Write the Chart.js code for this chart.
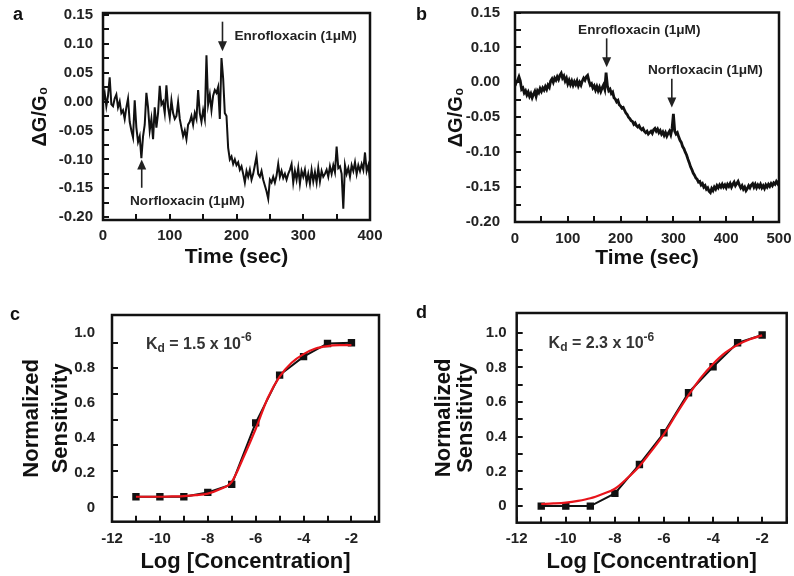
<!DOCTYPE html>
<html>
<head>
<meta charset="utf-8">
<script src="https://cdn.jsdelivr.net/npm/chart.js@4.4.1/dist/chart.umd.min.js"></script>
<style>
    html, body { margin: 0; padding: 0; background: #fff; }
    #wrap { position: relative; width: 794px; height: 576px; overflow: hidden; font-family: "Liberation Sans", Arial, sans-serif; }
    .panel { position: absolute; }
    .tag { position: absolute; font-weight: bold; font-size: 18px; line-height: 18px; color: #111; }
</style>
</head>
<body>
<div id="wrap">
    <canvas class="panel" id="chart-a" width="397" height="280" style="left:0;top:0"></canvas>
    <canvas class="panel" id="chart-b" width="397" height="280" style="left:397px;top:0"></canvas>
    <canvas class="panel" id="chart-c" width="397" height="296" style="left:0;top:280px"></canvas>
    <canvas class="panel" id="chart-d" width="397" height="296" style="left:397px;top:280px"></canvas>
    <div class="tag" style="left:13px;top:5px">a</div>
    <div class="tag" style="left:416px;top:5px">b</div>
    <div class="tag" style="left:10px;top:305px">c</div>
    <div class="tag" style="left:416px;top:303px">d</div>
</div>
<script>
// ---- panel a: conductance trace, one sample every 2.5 s ----
const DT_A = 2.5;
const valuesA = [
    0.000, 0.015, -0.008, 0.010, 0.042, -0.005, -0.008, 0.005, 0.012, -0.010,
    0.000, -0.020, -0.015, -0.030, -0.010, 0.005, -0.035, -0.050, -0.062, 0.002,
    -0.045, -0.070, -0.060, -0.098, -0.060, -0.040, 0.015, -0.010, -0.050, -0.030,
    -0.065, -0.010, -0.045, -0.020, 0.027, -0.005, 0.000, -0.020, 0.028, -0.010,
    -0.028, 0.002, -0.020, -0.030, -0.025, -0.001, -0.030, -0.045, -0.060, -0.050,
    -0.065, -0.040, -0.035, -0.025, -0.040, -0.020, -0.030, 0.020, -0.020, -0.035,
    -0.015, -0.030, 0.080, -0.005, 0.012, -0.015, 0.010, 0.020, 0.015, 0.025,
    -0.030, 0.075, 0.040, -0.020, -0.025, -0.080, -0.100, -0.095, -0.108, -0.100,
    -0.110, -0.105, -0.118, -0.112, -0.125, -0.140, -0.120, -0.130, -0.118, -0.135,
    -0.125, -0.110, -0.095, -0.125, -0.130, -0.120, -0.135, -0.145, -0.155, -0.168,
    -0.135, -0.140, -0.130, -0.140, -0.128, -0.108, -0.130, -0.120, -0.132, -0.125,
    -0.135, -0.125, -0.118, -0.108, -0.140, -0.120, -0.135, -0.115, -0.142, -0.120,
    -0.130, -0.118, -0.140, -0.125, -0.142, -0.118, -0.138, -0.122, -0.140, -0.115,
    -0.138, -0.120, -0.130, -0.125, -0.118, -0.130, -0.112, -0.125, -0.110, -0.122,
    -0.078, -0.115, -0.112, -0.125, -0.185, -0.110, -0.125, -0.115, -0.130, -0.110,
    -0.120, -0.105, -0.125, -0.110, -0.120, -0.108, -0.118, -0.088, -0.120, -0.110,
    -0.135
];
const aXTickVals = [0, 100, 200, 300, 400];
const aXTickLabels = ['0', '100', '200', '300', '400'];
const aYTickVals = [-0.20, -0.15, -0.10, -0.05, 0.00, 0.05, 0.10, 0.15];
const aYTickLabels = ['-0.20', '-0.15', '-0.10', '-0.05', '0.00', '0.05', '0.10', '0.15'];

// ---- panel b: conductance trace, one sample every 2.5 s ----
const DT_B = 2.5;
const valuesB = [
    -0.005, 0.000, 0.003, 0.008, 0.002, -0.010, -0.008, -0.015, -0.012, -0.018,
    -0.014, -0.020, -0.016, -0.022, -0.017, -0.013, -0.020, -0.012, -0.015, -0.009,
    -0.013, -0.008, -0.011, -0.006, -0.010, -0.004, -0.007, 0.002, 0.005, 0.000,
    0.006, 0.003, 0.008, 0.004, 0.010, 0.013, 0.006, 0.009, 0.002, 0.006,
    -0.002, 0.003, -0.003, 0.002, -0.004, 0.001, -0.003, 0.002, -0.005, 0.000,
    -0.004, 0.002, 0.006, 0.003, 0.008, 0.010, 0.002, -0.004, -0.002, -0.008,
    -0.005, -0.011, -0.006, -0.012, -0.007, -0.013, -0.008, -0.004, -0.010, 0.014,
    -0.005, -0.012, -0.010, -0.016, -0.014, -0.022, -0.024, -0.028, -0.026, -0.032,
    -0.034, -0.037, -0.036, -0.040, -0.044, -0.046, -0.050, -0.052, -0.055, -0.056,
    -0.060, -0.058, -0.062, -0.064, -0.062, -0.066, -0.068, -0.066, -0.070, -0.072,
    -0.070, -0.074, -0.072, -0.070, -0.073, -0.068, -0.066, -0.070, -0.067, -0.072,
    -0.069, -0.074, -0.071, -0.076, -0.072, -0.077, -0.073, -0.070, -0.075, -0.066,
    -0.045, -0.070, -0.074, -0.072, -0.078, -0.083, -0.086, -0.092, -0.095, -0.100,
    -0.104, -0.110, -0.115, -0.121, -0.125, -0.130, -0.133, -0.137, -0.139, -0.143,
    -0.142, -0.147, -0.145, -0.150, -0.148, -0.153, -0.151, -0.156, -0.158, -0.152,
    -0.155, -0.150, -0.153, -0.148, -0.151, -0.147, -0.150, -0.146, -0.150, -0.147,
    -0.151, -0.146, -0.149, -0.145, -0.150, -0.146, -0.143, -0.148, -0.145, -0.142,
    -0.147, -0.151, -0.148, -0.153, -0.150, -0.155, -0.152, -0.148, -0.151, -0.147,
    -0.145, -0.150, -0.146, -0.151, -0.147, -0.150, -0.146, -0.151, -0.148, -0.152,
    -0.147, -0.150, -0.146, -0.149, -0.145, -0.148, -0.144, -0.146, -0.142, -0.145,
    -0.141
];
const bXTickVals = [0, 100, 200, 300, 400, 500];
const bXTickLabels = ['0', '100', '200', '300', '400', '500'];
// the printed axis skips 0.05, so the two upper labels sit one step low
const bYTickVals = [-0.20, -0.15, -0.10, -0.05, 0.00, 0.05, 0.10];
const bYTickLabels = ['-0.20', '-0.15', '-0.10', '-0.05', '0.00', '0.10', '0.15'];

// ---- panels c and d: binding curves ----
const logConc = [-11, -10, -9, -8, -7, -6, -5, -4, -3, -2];
const sensC = [0, 0, 0, 0.028, 0.08, 0.48, 0.79, 0.91, 0.995, 1.0];
const sensD = [0, 0, 0, 0.073, 0.24, 0.423, 0.654, 0.804, 0.942, 0.987];
const fitLogConc = [-11, -10.5, -10, -9.5, -9, -8.5, -8, -7.5, -7, -6.5, -6, -5.5, -5, -4.5, -4, -3.5, -3, -2.5, -2];
const fitC = [0.000, 0.000, 0.000, 0.002, 0.004, 0.010, 0.020, 0.048, 0.097, 0.26, 0.44, 0.64, 0.78, 0.87, 0.926, 0.962, 0.978, 0.984, 0.985];
const fitD = [0.012, 0.015, 0.020, 0.030, 0.045, 0.070, 0.100, 0.160, 0.230, 0.320, 0.415, 0.530, 0.640, 0.740, 0.820, 0.885, 0.930, 0.962, 0.985];
const cdXTickVals = [-12, -10, -8, -6, -4, -2];
const cdXTickLabels = ['-12', '-10', '-8', '-6', '-4', '-2'];
// panel c prints its labels on a different spacing than its tick marks
const cYTickMarks = [0, 0.1667, 0.3333, 0.5, 0.6667, 0.8333, 1.0];
const cYTickVals = [0, 0.2, 0.4, 0.6, 0.8, 1.0];
const cYTickLabels = ['0', '0.2', '0.4', '0.6', '0.8', '1.0'];
const dYTickVals = [0, 0.2, 0.4, 0.6, 0.8, 1.0];
const dYTickLabels = ['0', '0.2', '0.4', '0.6', '0.8', '1.0'];

const SANS = '"Liberation Sans", Arial, sans-serif';
const tickFont = { family: SANS, size: 15, weight: 'bold' };
const titleFont = { family: SANS, size: 21, weight: 'bold' };

function stepTicks(lo, hi, step) {
    const out = [];
    for (let v = lo; v <= hi + 1e-9; v += step) out.push({ value: Math.round(v * 1e6) / 1e6 });
    return out;
}

function labelFor(values, labels) {
    return v => {
        const i = values.findIndex(t => Math.abs(t - v) < 1e-6);
        return i < 0 ? '' : labels[i];
    };
}

function tickMarks() {
    return { drawOnChartArea: false, drawTicks: true, tickLength: -6, color: '#111', lineWidth: 2 };
}

// fixed box size, no extra room for overhanging labels
function fixSize(w, h) {
    return s => {
        if (w !== null) s.width = w;
        if (h !== null) s.height = h;
        s.paddingTop = 0;
        s.paddingBottom = 0;
        s.paddingLeft = 0;
        s.paddingRight = 0;
    };
}

const framePlugin = {
    id: 'frame',
    afterDatasetsDraw(chart) {
        const { ctx, chartArea: a } = chart;
        ctx.save();
        ctx.strokeStyle = '#111';
        ctx.lineWidth = 2.5;
        ctx.strokeRect(a.left, a.top, a.right - a.left, a.bottom - a.top);
        ctx.restore();
    }
};

// arrows and free text, placed in data units
const notesPlugin = {
    id: 'notes',
    afterDraw(chart, args, opts) {
        const { ctx, scales } = chart;
        const xs = scales.x, ys = scales.y;
        ctx.save();
        ctx.strokeStyle = '#222';
        ctx.fillStyle = '#222';
        (opts.arrows || []).forEach(a => {
            const x = xs.getPixelForValue(a.x);
            const y0 = ys.getPixelForValue(a.from);
            const y1 = ys.getPixelForValue(a.to);
            const dir = Math.sign(y1 - y0);
            ctx.lineWidth = 1.6;
            ctx.beginPath();
            ctx.moveTo(x, y0);
            ctx.lineTo(x, y1 - dir * 8);
            ctx.stroke();
            ctx.beginPath();
            ctx.moveTo(x, y1);
            ctx.lineTo(x - 4.5, y1 - dir * 10);
            ctx.lineTo(x + 4.5, y1 - dir * 10);
            ctx.closePath();
            ctx.fill();
        });
        (opts.texts || []).forEach(t => {
            let x = xs.getPixelForValue(t.x);
            const y = ys.getPixelForValue(t.y);
            ctx.textBaseline = 'middle';
            ctx.textAlign = 'left';
            ctx.fillStyle = t.color || '#222';
            t.parts.forEach(p => {
                const size = p.sub || p.sup ? Math.round(t.size * 0.72) : t.size;
                ctx.font = 'bold ' + size + 'px ' + SANS;
                const dy = p.sub ? t.size * 0.3 : p.sup ? -t.size * 0.38 : 0;
                ctx.fillText(p.s, x, y + dy);
                x += ctx.measureText(p.s).width;
            });
        });
        ctx.restore();
    }
};

const baseOptions = {
    responsive: false,
    animation: false,
    events: []
};

// ---- chart a ----
new Chart(document.getElementById('chart-a'), {
    type: 'line',
    data: {
        datasets: [{
            data: valuesA.map((v, i) => ({ x: i * DT_A, y: v })),
            borderColor: '#111', borderWidth: 2, pointRadius: 0, tension: 0
        }]
    },
    options: {
        ...baseOptions,
        layout: { padding: { top: 13, right: 27, left: 0, bottom: 0 } },
        plugins: {
            legend: { display: false }, tooltip: { enabled: false },
            notes: {
                arrows: [{ x: 179, from: 0.138, to: 0.087 }, { x: 58, from: -0.149, to: -0.100 }],
                texts: [
                    { x: 197, y: 0.1125, size: 13.6, parts: [{ s: 'Enrofloxacin (1μM)' }] },
                    { x: 40.5, y: -0.173, size: 13.6, parts: [{ s: 'Norfloxacin (1μM)' }] }
                ]
            }
        },
        scales: {
            x: {
                type: 'linear', min: 0, max: 400,
                border: { display: false }, grid: tickMarks(),
                afterBuildTicks: s => { s.ticks = stepTicks(0, 400, 50); },
                ticks: { autoSkip: false, maxRotation: 0, padding: 13, color: '#222', font: tickFont, callback: labelFor(aXTickVals, aXTickLabels) },
                title: { display: true, text: 'Time (sec)', color: '#111', font: titleFont, padding: { top: 0, bottom: 10 } },
                afterFit: fixSize(null, 60)
            },
            y: {
                type: 'linear', min: -0.2047, max: 0.153,
                border: { display: false }, grid: tickMarks(),
                afterBuildTicks: s => { s.ticks = stepTicks(-0.2, 0.15, 0.025); },
                ticks: { autoSkip: false, padding: 16, color: '#222', font: tickFont, callback: labelFor(aYTickVals, aYTickLabels) },
                title: { display: true, text: 'ΔG/G₀', color: '#111', font: { family: SANS, size: 20, weight: 'bold' }, padding: { top: 28, bottom: 0 } },
                afterFit: fixSize(103, null)
            }
        }
    },
    plugins: [framePlugin, notesPlugin]
});

// ---- chart b ----
new Chart(document.getElementById('chart-b'), {
    type: 'line',
    data: {
        datasets: [{
            data: valuesB.map((v, i) => ({ x: i * DT_B, y: v })),
            borderColor: '#111', borderWidth: 2.8, pointRadius: 0, tension: 0
        }]
    },
    options: {
        ...baseOptions,
        layout: { padding: { top: 12.5, right: 15, left: 0, bottom: 0 } },
        plugins: {
            legend: { display: false }, tooltip: { enabled: false },
            notes: {
                arrows: [{ x: 173.6, from: 0.063, to: 0.0215 }, { x: 297, from: 0.005, to: -0.036 }],
                texts: [
                    { x: 119.5, y: 0.075, size: 13.6, parts: [{ s: 'Enrofloxacin (1μM)' }] },
                    { x: 252, y: 0.0167, size: 13.6, parts: [{ s: 'Norfloxacin (1μM)' }] }
                ]
            }
        },
        scales: {
            x: {
                type: 'linear', min: 0, max: 500,
                border: { display: false }, grid: tickMarks(),
                afterBuildTicks: s => { s.ticks = stepTicks(0, 500, 50); },
                ticks: { autoSkip: false, maxRotation: 0, padding: 14, color: '#222', font: tickFont, callback: labelFor(bXTickVals, bXTickLabels) },
                title: { display: true, text: 'Time (sec)', color: '#111', font: titleFont, padding: { top: 0, bottom: 9 } },
                afterFit: fixSize(null, 58)
            },
            y: {
                type: 'linear', min: -0.2, max: 0.1,
                border: { display: false }, grid: tickMarks(),
                afterBuildTicks: s => { s.ticks = stepTicks(-0.2, 0.1, 0.025); },
                ticks: { autoSkip: false, padding: 21, color: '#222', font: tickFont, callback: labelFor(bYTickVals, bYTickLabels) },
                title: { display: true, text: 'ΔG/G₀', color: '#111', font: { family: SANS, size: 20, weight: 'bold' }, padding: { top: 47, bottom: 0 } },
                afterFit: fixSize(118, null)
            }
        }
    },
    plugins: [framePlugin, notesPlugin]
});

// ---- chart c ----
new Chart(document.getElementById('chart-c'), {
    type: 'line',
    data: {
        datasets: [
            {
                data: fitLogConc.map((x, i) => ({ x, y: fitC[i] })),
                borderColor: '#e8141b', borderWidth: 2.2, pointRadius: 0, cubicInterpolationMode: 'monotone'
            },
            {
                data: logConc.map((x, i) => ({ x, y: sensC[i] })),
                borderColor: '#111', backgroundColor: '#111', borderWidth: 2,
                pointStyle: 'rect', pointRadius: 3.8, tension: 0
            }
        ]
    },
    options: {
        ...baseOptions,
        layout: { padding: { top: 35, right: 18, left: 0, bottom: 0 } },
        plugins: {
            legend: { display: false }, tooltip: { enabled: false },
            notes: {
                texts: [{ x: -10.58, y: 0.99, size: 16, color: '#333', parts: [{ s: 'K' }, { s: 'd', sub: true }, { s: ' = 1.5 x 10' }, { s: '-6', sup: true }] }]
            }
        },
        scales: {
            x: {
                type: 'linear', min: -12, max: -0.85,
                border: { display: false }, grid: tickMarks(),
                afterBuildTicks: s => { s.ticks = stepTicks(-12, -1, 1); },
                ticks: { autoSkip: false, maxRotation: 0, padding: 14, color: '#222', font: tickFont, callback: labelFor(cdXTickVals, cdXTickLabels) },
                title: { display: true, text: 'Log [Concentration]', color: '#111', font: { family: SANS, size: 22, weight: 'bold' }, padding: { top: 0, bottom: 1 } },
                afterFit: fixSize(null, 54.3)
            },
            y: {
                type: 'linear', min: -0.162, max: 1.18, weight: 0,
                border: { display: false }, grid: tickMarks(),
                afterBuildTicks: s => { s.ticks = cYTickMarks.map(v => ({ value: v })); },
                ticks: { display: false },
                afterFit: fixSize(0, null)
            },
            yl: {
                type: 'linear', position: 'left', min: -0.078, max: 1.103, weight: 1,
                border: { display: false }, grid: { display: false, drawTicks: false },
                afterBuildTicks: s => { s.ticks = cYTickVals.map(v => ({ value: v })); },
                ticks: { autoSkip: false, padding: 17, color: '#222', font: tickFont, callback: labelFor(cYTickVals, cYTickLabels) },
                title: { display: true, text: ['Normalized', 'Sensitivity'], color: '#111', font: { family: SANS, size: 22, weight: 'bold', lineHeight: 1.3 }, padding: { top: 18, bottom: 0 } },
                afterFit: fixSize(112, null)
            }
        }
    },
    plugins: [framePlugin, notesPlugin]
});

// ---- chart d ----
new Chart(document.getElementById('chart-d'), {
    type: 'line',
    data: {
        datasets: [
            {
                data: fitLogConc.map((x, i) => ({ x, y: fitD[i] })),
                borderColor: '#e8141b', borderWidth: 2.2, pointRadius: 0, cubicInterpolationMode: 'monotone'
            },
            {
                data: logConc.map((x, i) => ({ x, y: sensD[i] })),
                borderColor: '#111', backgroundColor: '#111', borderWidth: 2,
                pointStyle: 'rect', pointRadius: 3.8, tension: 0
            }
        ]
    },
    options: {
        ...baseOptions,
        layout: { padding: { top: 33, right: 7.3, left: 0, bottom: 0 } },
        plugins: {
            legend: { display: false }, tooltip: { enabled: false },
            notes: {
                texts: [{ x: -10.7, y: 0.939, size: 16, color: '#333', parts: [{ s: 'K' }, { s: 'd', sub: true }, { s: ' = 2.3 x 10' }, { s: '-6', sup: true }] }]
            }
        },
        scales: {
            x: {
                type: 'linear', min: -12, max: -1,
                border: { display: false }, grid: tickMarks(),
                afterBuildTicks: s => { s.ticks = stepTicks(-12, -1, 1); },
                ticks: { autoSkip: false, maxRotation: 0, padding: 13, color: '#222', font: tickFont, callback: labelFor(cdXTickVals, cdXTickLabels) },
                title: { display: true, text: 'Log [Concentration]', color: '#111', font: { family: SANS, size: 22, weight: 'bold' }, padding: { top: 0, bottom: 1 } },
                afterFit: fixSize(null, 53.3)
            },
            y: {
                type: 'linear', min: -0.096, max: 1.114,
                border: { display: false }, grid: tickMarks(),
                afterBuildTicks: s => { s.ticks = stepTicks(0, 1, 0.1); },
                ticks: { autoSkip: false, padding: 16, color: '#222', font: tickFont, callback: labelFor(dYTickVals, dYTickLabels) },
                title: { display: true, text: ['Normalized', 'Sensitivity'], color: '#111', font: { family: SANS, size: 22, weight: 'bold', lineHeight: 1.0 }, padding: { top: 36, bottom: 0 } },
                afterFit: fixSize(119.7, null)
            }
        }
    },
    plugins: [framePlugin, notesPlugin]
});
</script>
</body>
</html>
